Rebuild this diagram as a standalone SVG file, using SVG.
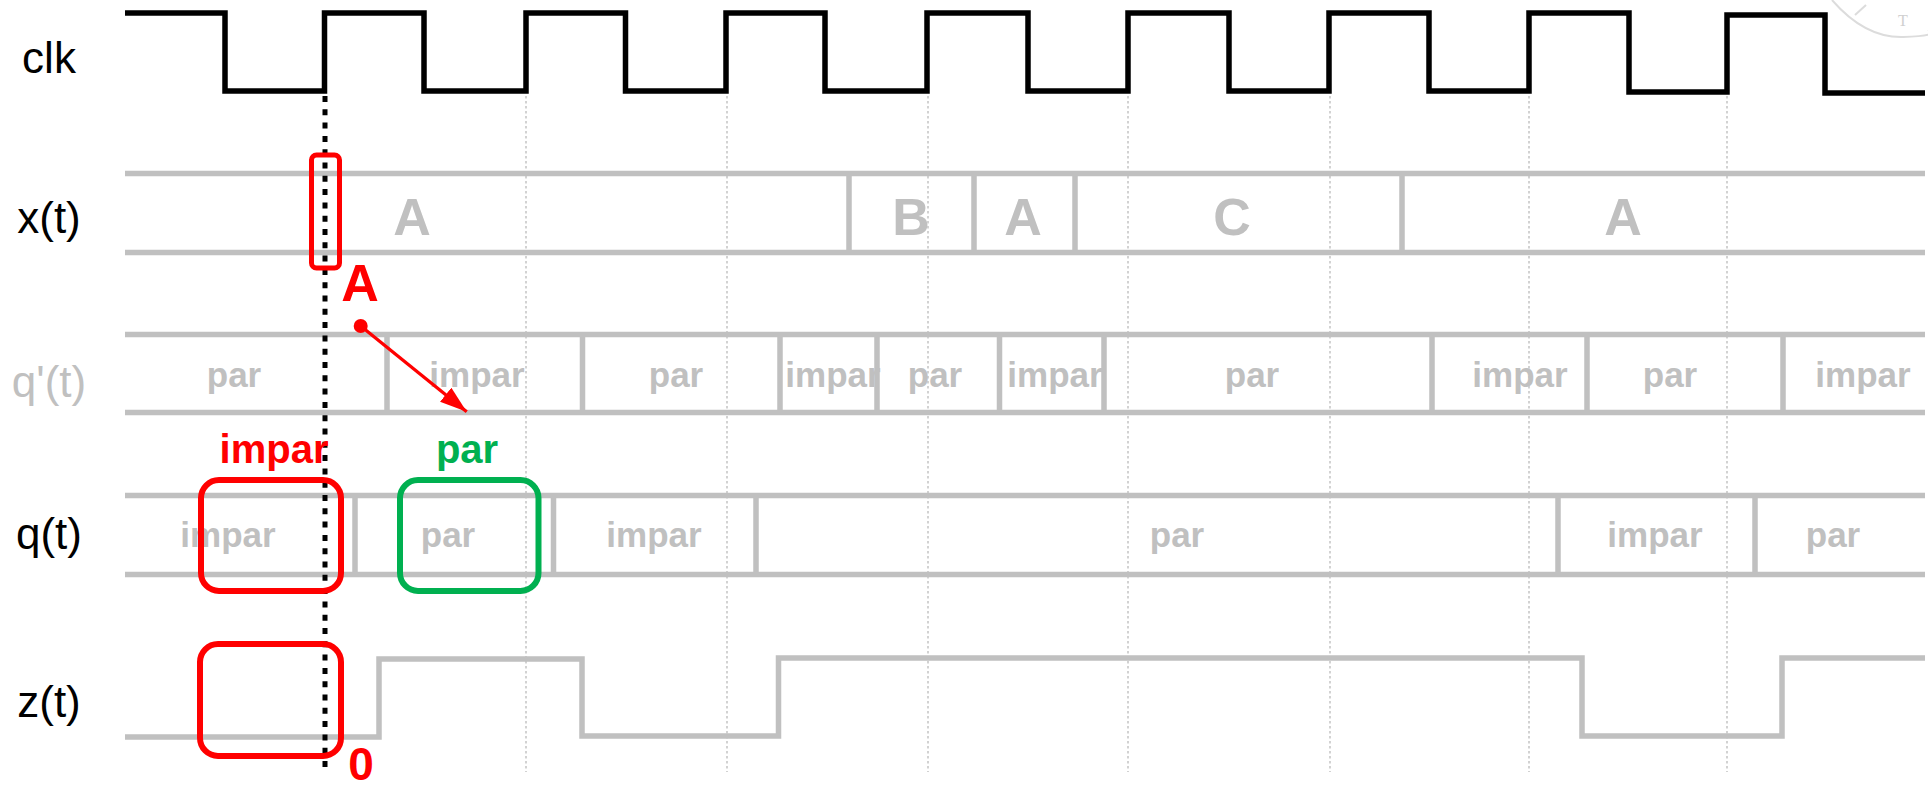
<svg xmlns="http://www.w3.org/2000/svg" width="1928" height="790" viewBox="0 0 1928 790">
  <style>
    .lbl { font-family: "Liberation Sans", Arial, sans-serif; font-size: 44px; text-anchor: middle; }
    .bus { stroke: #c0c0c0; stroke-width: 5.5; fill: none; }
    .val { font-family: "Liberation Sans", Arial, sans-serif; font-weight: bold; font-size: 35px; fill: #c0c0c0; text-anchor: middle; }
    .big { font-family: "Liberation Sans", Arial, sans-serif; font-weight: bold; font-size: 52px; fill: #c0c0c0; text-anchor: middle; }
    .guide { stroke: #c4c4c4; stroke-width: 1.5; stroke-dasharray: 2.5 2.5; fill: none; }
    .ann { font-family: "Liberation Sans", Arial, sans-serif; font-weight: bold; text-anchor: middle; }
  </style>
  <defs>
    <marker id="arrow" markerUnits="userSpaceOnUse" markerWidth="28" markerHeight="20" refX="27" refY="9" orient="auto">
      <path d="M0,0 L27,9 L0,18 Z" fill="#ff0000"/>
    </marker>
  </defs>
  <rect width="1928" height="790" fill="#ffffff"/>

  <!-- watermark -->
  <g id="watermark" fill="none" stroke="#dcdcdc" stroke-width="2">
    <path d="M1832,0 Q1865,38 1903,37 T1928,30"/>
    <path d="M1855,15 L1866,5"/>
    <text x="1903" y="26" font-family="Liberation Serif, serif" font-size="16" fill="#d0d0d0" stroke="none" text-anchor="middle">T</text>
  </g>

  <!-- guides -->
  <g id="guides">
    <path class="guide" d="M526,96 V772 M727,96 V772 M928,96 V772 M1128,96 V772 M1330,96 V772 M1529,96 V772 M1727,96 V772"/>
  </g>

  <!-- row labels -->
  <g id="labels">
    <text class="lbl" x="49" y="73" fill="#000000">clk</text>
    <text class="lbl" x="49" y="233" fill="#000000">x(t)</text>
    <text class="lbl" x="49" y="397" fill="#c0c0c0">q'(t)</text>
    <text class="lbl" x="49" y="549" fill="#000000">q(t)</text>
    <text class="lbl" x="49" y="717" fill="#000000">z(t)</text>
  </g>

  <!-- clk -->
  <g id="clk">
    <path d="M125,13 H225 V91 H324.5 V13 H424 V91 H526 V13 H625.5 V91 H726 V13 H825 V91 H927 V13 H1028 V91 H1128 V13 H1229 V91 H1329 V13 H1429 V91 H1529 V13 H1629 V92 H1727 V15 H1825 V93 H1925" fill="none" stroke="#000000" stroke-width="5.5"/>
  </g>

  <!-- x(t) -->
  <g id="xt">
    <path class="bus" d="M125,173.5 H1925 M125,252.5 H1925 M849,173.5 V252.5 M974,173.5 V252.5 M1075,173.5 V252.5 M1402,173.5 V252.5"/>
    <text class="big" x="412" y="235">A</text>
    <text class="big" x="911" y="235">B</text>
    <text class="big" x="1023" y="235">A</text>
    <text class="big" x="1232" y="235">C</text>
    <text class="big" x="1623" y="235">A</text>
  </g>

  <!-- q'(t) -->
  <g id="qnext">
    <text class="val" x="234" y="387">par</text>
    <text class="val" x="477" y="387">impar</text>
    <text class="val" x="676" y="387">par</text>
    <text class="val" x="833" y="387">impar</text>
    <text class="val" x="935" y="387">par</text>
    <text class="val" x="1055" y="387">impar</text>
    <text class="val" x="1252" y="387">par</text>
    <text class="val" x="1520" y="387">impar</text>
    <text class="val" x="1670" y="387">par</text>
    <text class="val" x="1863" y="387">impar</text>
    <path class="bus" d="M125,334.5 H1925 M125,412.5 H1925 M387,334.5 V412.5 M582.5,334.5 V412.5 M780,334.5 V412.5 M877,334.5 V412.5 M999.5,334.5 V412.5 M1104,334.5 V412.5 M1432,334.5 V412.5 M1587,334.5 V412.5 M1783,334.5 V412.5"/>
  </g>

  <!-- q(t) -->
  <g id="qt">
    <text class="val" x="228" y="547">impar</text>
    <text class="val" x="448" y="547">par</text>
    <text class="val" x="654" y="547">impar</text>
    <text class="val" x="1177" y="547">par</text>
    <text class="val" x="1655" y="547">impar</text>
    <text class="val" x="1833" y="547">par</text>
    <path class="bus" d="M125,495.5 H1925 M125,574.5 H1925 M355,495.5 V574.5 M553.5,495.5 V574.5 M756,495.5 V574.5 M1558,495.5 V574.5 M1755,495.5 V574.5"/>
  </g>

  <!-- z(t) -->
  <g id="zt">
    <path class="bus" d="M125,737 H379 V659 H582 V736 H778.5 V658 H1582 V736 H1782 V658 H1925"/>
  </g>

  <!-- sampling instant -->
  <g id="sample">
    <path d="M325,96 V772" stroke="#000000" stroke-width="5" stroke-dasharray="6 7.3" fill="none"/>
  </g>

  <!-- annotations -->
  <g id="annot-x">
    <rect x="311.5" y="155" width="28" height="113" rx="5" fill="none" stroke="#ff0000" stroke-width="5"/>
    <text class="ann" x="360" y="301" font-size="52" fill="#ff0000">A</text>
  </g>
  <g id="connectors">
    <circle cx="360.7" cy="326" r="7" fill="#ff0000"/>
    <line x1="360.7" y1="326" x2="466.7" y2="411.7" stroke="#ff0000" stroke-width="3.3" marker-end="url(#arrow)"/>
  </g>
  <g id="annot-impar">
    <text class="ann" x="274" y="463" font-size="40" fill="#ff0000">impar</text>
    <rect x="201" y="480" width="140" height="111" rx="18" fill="none" stroke="#ff0000" stroke-width="6"/>
  </g>
  <g id="annot-par">
    <text class="ann" x="467" y="463" font-size="40" fill="#00b050">par</text>
    <rect x="400" y="480" width="138.5" height="111" rx="18" fill="none" stroke="#00b050" stroke-width="6"/>
  </g>
  <g id="annot-z">
    <rect x="200" y="644" width="141" height="112" rx="18" fill="none" stroke="#ff0000" stroke-width="6"/>
    <text class="ann" x="361" y="780" font-size="46" fill="#ff0000">0</text>
  </g>
</svg>
